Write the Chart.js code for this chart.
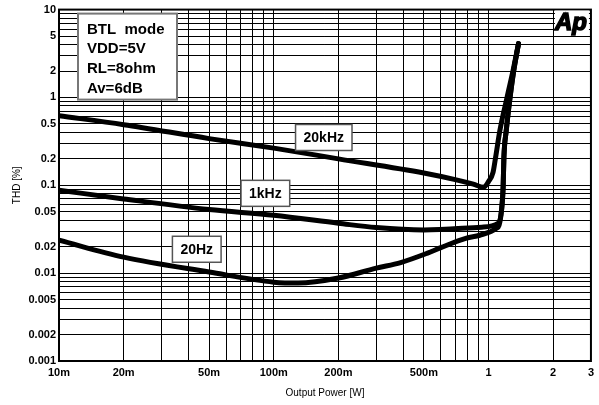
<!DOCTYPE html>
<html>
<head>
<meta charset="utf-8">
<script src="https://cdn.jsdelivr.net/npm/chart.js@4.4.1/dist/chart.umd.min.js"></script>
<style>
  html, body { margin: 0; padding: 0; background: #fff; }
  #thdChart { display: block; }
</style>
</head>
<body>
<canvas id="thdChart" width="599" height="405"></canvas>
<script>
// THD [%] vs output power [W]
var power20k = [0.01, 0.02, 0.05, 0.1, 0.2, 0.5, 0.7, 0.85, 0.95, 1.0, 1.05, 1.08, 1.13, 1.22, 1.3, 1.38];
var thd20k   = [0.62, 0.49, 0.34, 0.265, 0.20, 0.138, 0.116, 0.103, 0.095, 0.11, 0.14, 0.21, 0.42, 1.0, 2.0, 4.1];

var power1k = [0.01, 0.02, 0.05, 0.1, 0.2, 0.3, 0.5, 0.93, 1.11, 1.15, 1.17, 1.18, 1.21, 1.26, 1.31, 1.38];
var thd1k   = [0.088, 0.07, 0.053, 0.0455, 0.037, 0.033, 0.031, 0.0334, 0.037, 0.052, 0.095, 0.21, 0.42, 1.0, 2.0, 4.1];

var power20 = [0.01, 0.02, 0.05, 0.1, 0.13, 0.2, 0.3, 0.39, 0.52, 0.6, 0.79, 0.91, 1.09, 1.12, 1.15, 1.17, 1.18, 1.21, 1.26, 1.31, 1.38];
var thd20   = [0.0237, 0.0152, 0.0103, 0.0079, 0.0077, 0.0088, 0.0114, 0.0132, 0.0169, 0.0195, 0.025, 0.027, 0.0324, 0.035, 0.052, 0.095, 0.21, 0.42, 1.0, 2.0, 4.1];

// curve labels and where they sit (data coordinates)
var curveNames = ['20kHz', '1kHz', '20Hz'];
var namePower  = [0.171, 0.0914, 0.0438];
var nameThd    = [0.35, 0.081, 0.0187];

var conditions = ['BTL  mode', 'VDD=5V', 'RL=8ohm', 'Av=6dB'];

var xTickValues = [0.01, 0.02, 0.05, 0.1, 0.2, 0.5, 1, 2, 3];
var xTickText   = ['10m', '20m', '50m', '100m', '200m', '500m', '1', '2', '3'];
var yTickValues = [0.001, 0.002, 0.005, 0.01, 0.02, 0.05, 0.1, 0.2, 0.5, 1, 2, 5, 10];
var yTickText   = ['0.001', '0.002', '0.005', '0.01', '0.02', '0.05', '0.1', '0.2', '0.5', '1', '2', '5', '10'];

function logGrid(min, max) {
    var out = [];
    for (var e = Math.floor(Math.log10(min)); e <= Math.ceil(Math.log10(max)); e++) {
        for (var m = 1; m < 10; m++) {
            var v = parseFloat((m * Math.pow(10, e)).toPrecision(6));
            if (v >= min * 0.9999 && v <= max * 1.0001) out.push(v);
        }
    }
    return out;
}

function pickLabel(values, texts, v) {
    for (var i = 0; i < values.length; i++) {
        if (Math.abs(values[i] - v) / values[i] < 1e-6) return texts[i];
    }
    return '';
}

function points(xs, ys) {
    return xs.map(function(x, i) { return {x: x, y: ys[i]}; });
}

Chart.defaults.font.family = "'Liberation Sans', Arial, sans-serif";
Chart.defaults.color = '#000';

var notes = {
    id: 'notes',
    afterDatasetsDraw: function(chart) {
        var ctx = chart.ctx, a = chart.chartArea;
        var xs = chart.scales.x, ys = chart.scales.y;
        ctx.save();

        // frame
        ctx.strokeStyle = '#000';
        ctx.lineWidth = 2;
        ctx.strokeRect(a.left, a.top, a.right - a.left, a.bottom - a.top);

        // curve name boxes
        ctx.font = 'bold 14px "Liberation Sans", Arial, sans-serif';
        ctx.textAlign = 'center';
        ctx.textBaseline = 'middle';
        curveNames.forEach(function(name, i) {
            var cx = xs.getPixelForValue(namePower[i]);
            var cy = ys.getPixelForValue(nameThd[i]);
            var w = ctx.measureText(name).width + 16, h = 26;
            ctx.fillStyle = '#fff';
            ctx.fillRect(cx - w / 2, cy - h / 2, w, h);
            ctx.strokeStyle = '#555';
            ctx.lineWidth = 1.5;
            ctx.strokeRect(cx - w / 2, cy - h / 2, w, h);
            ctx.fillStyle = '#000';
            ctx.fillText(name, cx, cy + 1);
        });

        // test conditions box
        var bx = a.left + 19, by = a.top + 4, bw = 99, bh = 86;
        ctx.fillStyle = '#fff';
        ctx.fillRect(bx, by, bw, bh);
        ctx.strokeStyle = '#777';
        ctx.lineWidth = 2;
        ctx.strokeRect(bx, by, bw, bh);
        ctx.fillStyle = '#000';
        ctx.font = 'bold 15px "Liberation Sans", Arial, sans-serif';
        ctx.textAlign = 'left';
        conditions.forEach(function(line, i) {
            ctx.fillText(line, bx + 9, by + 16 + i * 19.7);
        });

        // Ap logo
        ctx.fillStyle = '#fff';
        ctx.fillRect(a.right - 36, a.top + 1, 34, 24);
        ctx.fillStyle = '#000';
        ctx.strokeStyle = '#000';
        ctx.lineWidth = 1.5;
        ctx.font = 'italic bold 24px "Liberation Sans", Arial, sans-serif';
        ctx.textAlign = 'right';
        ctx.textBaseline = 'alphabetic';
        ctx.fillText('Ap', a.right - 4, a.top + 20);
        ctx.strokeText('Ap', a.right - 4, a.top + 20);

        ctx.restore();
    }
};

function curve(data) {
    return {
        data: data,
        borderColor: '#000',
        borderWidth: 5,
        pointRadius: 0,
        cubicInterpolationMode: 'monotone',
        borderCapStyle: 'round',
        borderJoinStyle: 'round',
        fill: false
    };
}

var ctxThd = document.getElementById('thdChart').getContext('2d');
var thdChart = new Chart(ctxThd, {
    type: 'line',
    data: {
        datasets: [
            curve(points(power20k, thd20k)),
            curve(points(power1k, thd1k)),
            curve(points(power20, thd20))
        ]
    },
    options: {
        responsive: false,
        animation: false,
        layout: { padding: { top: 9, right: 4, left: 0, bottom: 0 } },
        plugins: { legend: { display: false }, tooltip: { enabled: false } },
        scales: {
            x: {
                type: 'logarithmic',
                min: 0.01,
                max: 3,
                afterBuildTicks: function(scale) {
                    scale.ticks = logGrid(0.01, 3).map(function(v) { return {value: v}; });
                },
                afterFit: function(scale) { scale.height = 44; },
                grid: { color: '#000', lineWidth: 1, drawTicks: false },
                border: { display: false },
                ticks: {
                    autoSkip: false,
                    maxRotation: 0,
                    padding: 5,
                    font: { size: 11, weight: 'bold' },
                    callback: function(v) { return pickLabel(xTickValues, xTickText, v); }
                },
                title: {
                    display: true,
                    text: 'Output Power [W]',
                    font: { size: 10 },
                    padding: { top: 0, bottom: 6 }
                }
            },
            y: {
                type: 'logarithmic',
                min: 0.001,
                max: 10,
                afterBuildTicks: function(scale) {
                    scale.ticks = logGrid(0.001, 10).map(function(v) { return {value: v}; });
                },
                afterFit: function(scale) { scale.width = 59; },
                grid: { color: '#000', lineWidth: 1, drawTicks: false },
                border: { display: false },
                ticks: {
                    autoSkip: false,
                    padding: 3,
                    font: { size: 11, weight: 'bold' },
                    callback: function(v) { return pickLabel(yTickValues, yTickText, v); }
                },
                title: {
                    display: true,
                    text: 'THD [%]',
                    font: { size: 10 },
                    padding: { top: 11, bottom: 0 }
                }
            }
        }
    },
    plugins: [notes]
});
</script>
</body>
</html>
